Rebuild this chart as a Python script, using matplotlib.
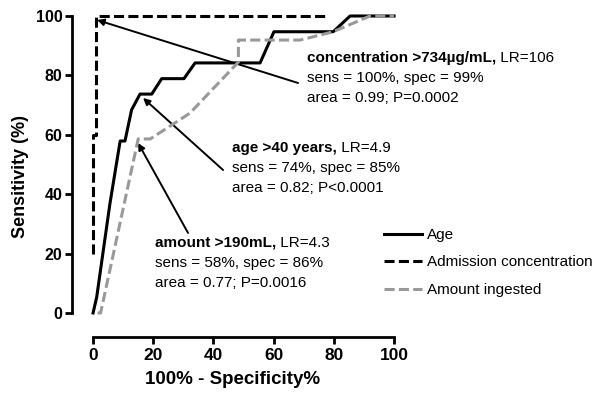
import matplotlib
matplotlib.use("Agg")
import matplotlib.pyplot as plt

plt.rcParams['font.family'] = ['Liberation Sans', 'DejaVu Sans']

# Data
age_x = [0, 1.2, 5.6, 9.0, 10.6, 12.8, 15.6, 19.5, 22.8, 30.2, 33.9, 55.5, 60.1, 79.8, 85.4, 100]
age_y = [0, 5.3, 36.8, 57.9, 57.9, 68.4, 73.7, 73.7, 78.9, 78.9, 84.2, 84.2, 94.7, 94.7, 100, 100]

conc_x = [0, 0, 1.0, 1.0, 77]
conc_y = [20, 60, 60, 100, 100]

amount_x = [1.5, 2.5, 15.0, 19.0, 32.2, 48.3, 48.3, 68.8, 79.8, 92.0, 100]
amount_y = [0, 0, 58.6, 58.6, 67.3, 84.5, 91.9, 91.9, 94.7, 100, 100]

labels = ["Age", "Admission concentration", "Amount ingested"]
ticks = [0, 20, 40, 60, 80, 100]

fig = plt.figure(figsize=(6, 3.95), dpi=100)
ax = fig.add_axes([0.12, 0.1468, 0.6567 - 0.12, 0.9595 - 0.1468])
ax.set_xlim(-7, 100)
ax.set_ylim(-8.1, 100)

lw = 2.2
dash = (3.3, 1.4)
l2, = ax.plot(conc_x, conc_y, color='black', lw=lw, dashes=dash, clip_on=False, label=labels[1], zorder=3)
l1, = ax.plot(age_x, age_y, color='black', lw=lw, clip_on=False, label=labels[0], zorder=4)
l3, = ax.plot(amount_x, amount_y, color='#999999', lw=lw, dashes=dash, clip_on=False, label=labels[2], zorder=5)

for s in ['top', 'right']:
    ax.spines[s].set_visible(False)
for s in ['left', 'bottom']:
    ax.spines[s].set_linewidth(2.0)
ax.spines['left'].set_bounds(0, 100)
ax.spines['bottom'].set_bounds(0, 100)
ax.set_xticks(ticks)
ax.set_yticks(ticks)
ax.tick_params(width=2.0, length=5, pad=2)
ax.tick_params(axis='x', labelsize=12.5, pad=3)
ax.tick_params(axis='y', labelsize=11.5)
for t in ax.get_xticklabels() + ax.get_yticklabels():
    t.set_fontweight('bold')

ax.set_xlabel("100% - Specificity%", fontsize=13.5, fontweight='bold', labelpad=6)
ax.set_ylabel("Sensitivity (%)", fontsize=13, fontweight='bold', labelpad=5)

# Annotations
def add_block(x, y, bold, normal, lines):
    fs = 11
    tb = ax.text(x, y, bold, fontsize=fs, fontweight='bold', transform=ax.transData,
                 va='baseline', ha='left')
    ax.annotate(normal, xy=(1, 0), xycoords=tb, va='bottom', ha='left', fontsize=fs)
    for i, ln in enumerate(lines):
        ax.annotate(ln, xy=(0, 0), xycoords=tb, xytext=(0, -14.3 * (i + 1)),
                    textcoords='offset points', va='bottom', ha='left', fontsize=fs)

arrow_props = dict(arrowstyle='-|>', color='black', lw=1.4, shrinkA=0, shrinkB=0,
                   mutation_scale=10)

def px(xp, yp):
    return ((xp - 93) / 3.01, (313 - yp) / 2.97)

# concentration
add_block(*px(307, 62), "concentration >734\u00b5g/mL,", " LR=106",
          ["sens = 100%, spec = 99%", "area = 0.99; P=0.0002"])
ax.annotate("", xy=px(97, 20), xytext=px(298, 83), arrowprops=arrow_props)

# age
add_block(*px(232, 152), "age >40 years,", " LR=4.9",
          ["sens = 74%, spec = 85%", "area = 0.82; P<0.0001"])
ax.annotate("", xy=px(143, 98), xytext=px(223, 170), arrowprops=arrow_props)

# amount
add_block(*px(155, 247), "amount >190mL,", " LR=4.3",
          ["sens = 58%, spec = 86%", "area = 0.77; P=0.0016"])
ax.annotate("", xy=px(138, 143), xytext=px(188, 233), arrowprops=arrow_props)

leg = fig.legend(handles=[l1, l2, l3], loc='upper left',
                 bbox_to_anchor=(384 / 600, 1 - 228 / 395), frameon=False,
                 fontsize=11, handlelength=2.5, handletextpad=0.3, labelspacing=0.88,
                 borderpad=0, borderaxespad=0)

fig.savefig("out.png", dpi=100)
